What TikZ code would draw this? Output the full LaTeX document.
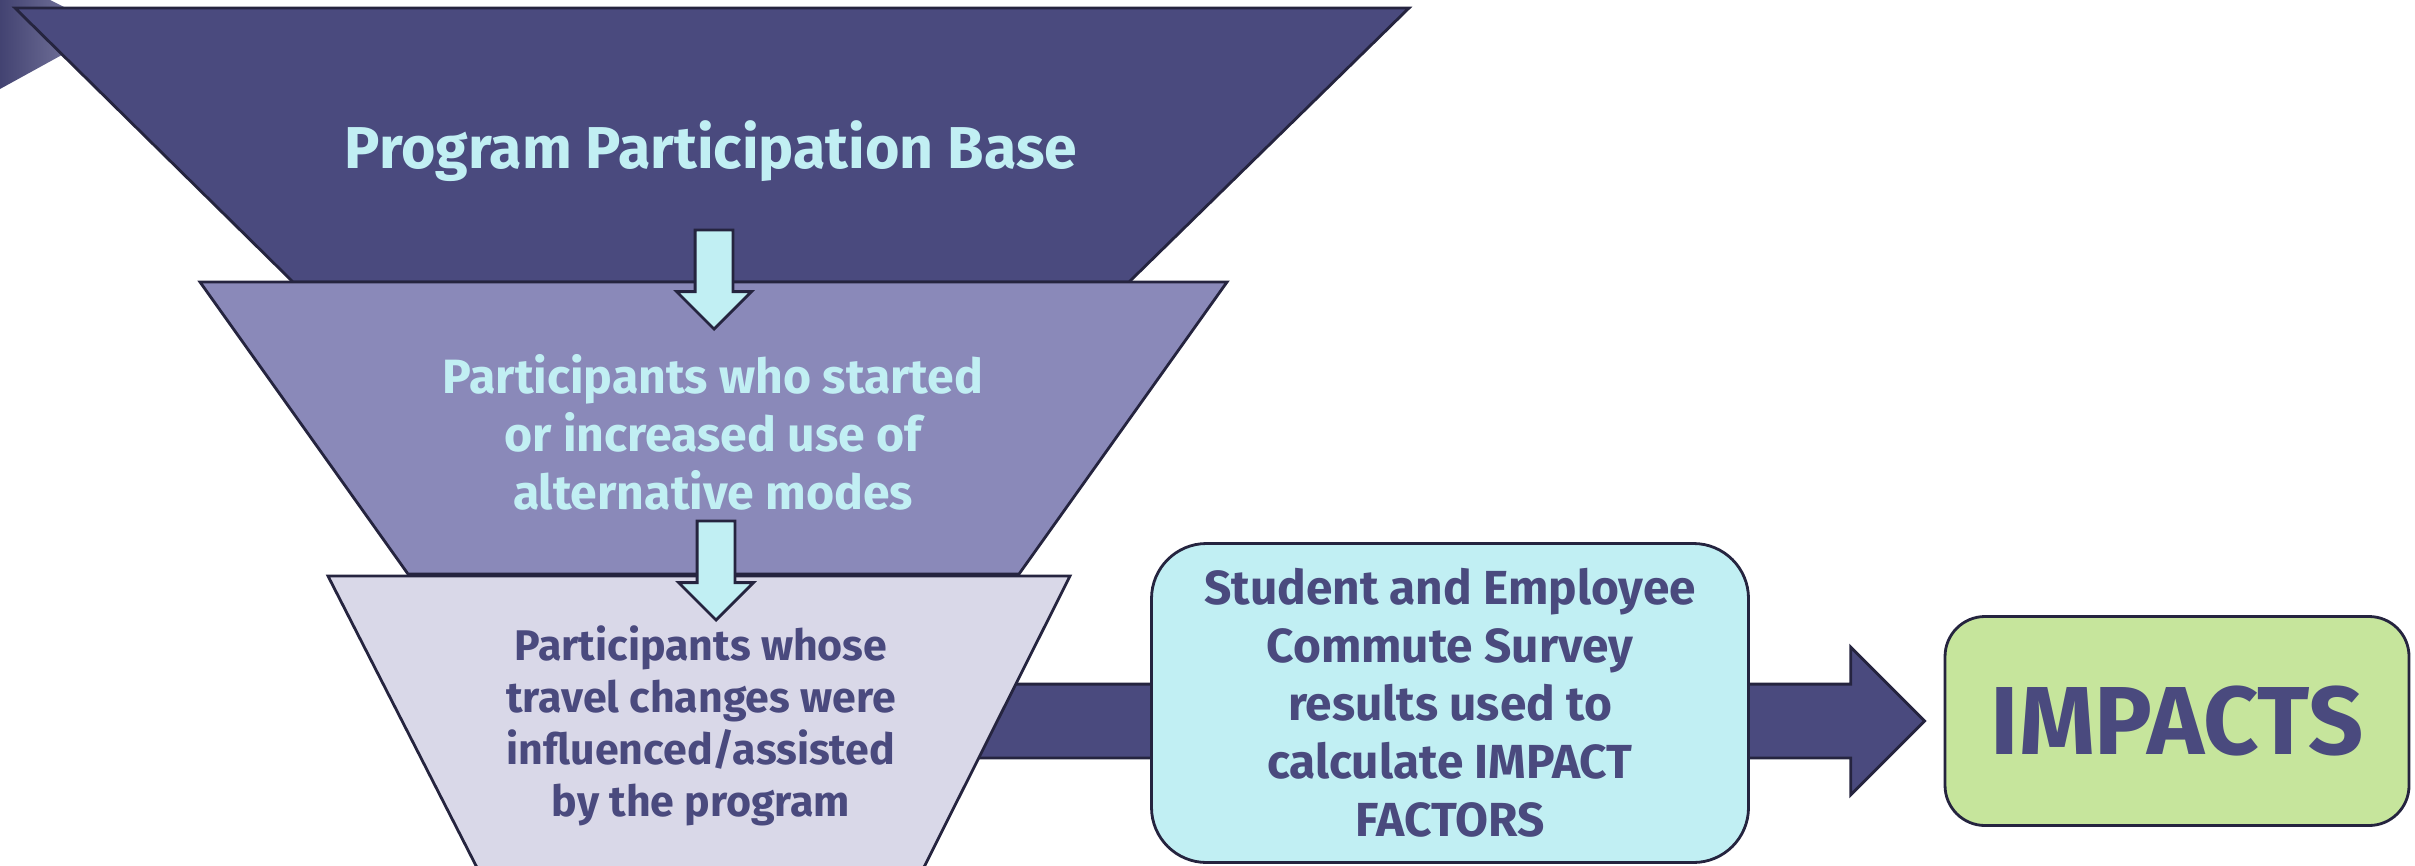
\documentclass[tikz,border=0pt]{standalone}
\usepackage{fontspec}
\setmainfont{Fira Sans}
\usepackage{tikz}
\usetikzlibrary{shapes.arrows,calc,positioning}
\definecolor{deepviolet}{HTML}{4A4A7E}
\definecolor{midviolet}{HTML}{8A89B9}
\definecolor{paleviolet}{HTML}{D9D8E8}
\definecolor{icecyan}{HTML}{C1EFF3}
\definecolor{softlime}{HTML}{C6E59C}
\definecolor{edgeink}{HTML}{25243F}

\begin{document}
\begin{tikzpicture}[x=0.1mm,y=-0.1mm,
  funnel/.style={draw=edgeink,line width=0.8pt,line join=miter},
  droparrow/.style={single arrow,draw=edgeink,fill=icecyan,line width=0.8pt,
    minimum height=9.9mm,single arrow head extend=1.85mm,
    inner xsep=0pt,inner ysep=1.75mm,rotate=-90,anchor=tip},
  flowarrow/.style={single arrow,draw=edgeink,fill=deepviolet,line width=0.8pt,
    minimum height=102.8mm,single arrow head extend=3.7mm,
    inner xsep=0pt,inner ysep=3.55mm,anchor=tip},
  roundbox/.style={draw=edgeink,line width=0.8pt,rounded corners=5.5mm,
    inner sep=0pt,align=center,text=deepviolet,font=\bfseries}]
\useasboundingbox (0,0) rectangle (2415,865);
\clip (0,0) rectangle (2415,865);

\shade[left color=deepviolet!90!black,right color=deepviolet!75!white]
  (0,0) -- (50,0) -- (80,15) -- (80,45) -- (0,89) -- cycle;

% funnel
\filldraw[funnel,fill=deepviolet] (15,8) -- (1409,8) -- (1129,282) -- (293,282) -- cycle;
\node[text=icecyan,font=\fontsize{16.8}{20}\selectfont\bfseries] (base) at (711,151)
  {Program Participation Base};
\filldraw[funnel,fill=midviolet] (200,282) -- (1227,282) -- (1019,574) -- (408,574) -- cycle;
\node[droparrow] (drop1) at (714,331) {};
\node[text=icecyan,align=center,font=\fontsize{13.7}{16.5}\selectfont\bfseries] (started)
  at (713,432) {Participants who started\\or increased use of\\alternative modes};

\node[roundbox,fill=softlime,minimum width=46.4mm,minimum height=20.9mm,
  rounded corners=4mm,font=\fontsize{27.5}{30}\selectfont\bfseries] (impacts)
  at (2177,721) {IMPACTS};
\node[flowarrow] (flow) at ($(impacts.west)+(-17,0)$) {};

\filldraw[funnel,fill=paleviolet] (328,576) -- (1070,576) -- (910,895) -- (491,895) -- cycle;
\node[droparrow] (drop2) at (716,622) {};
\node[text=deepviolet,align=center,font=\fontsize{12.2}{14.8}\selectfont\bfseries] (influenced)
  at (701,726) {Participants whose\\travel changes were\\influenced/assisted\\by the program};

\node[roundbox,fill=icecyan,minimum width=59.7mm,minimum height=31.9mm,
  font=\fontsize{13.6}{16.5}\selectfont\bfseries] (survey) at (1450,703)
  {Student and Employee\\Commute Survey\\results used to\\calculate IMPACT\\FACTORS};
\end{tikzpicture}
\end{document}
